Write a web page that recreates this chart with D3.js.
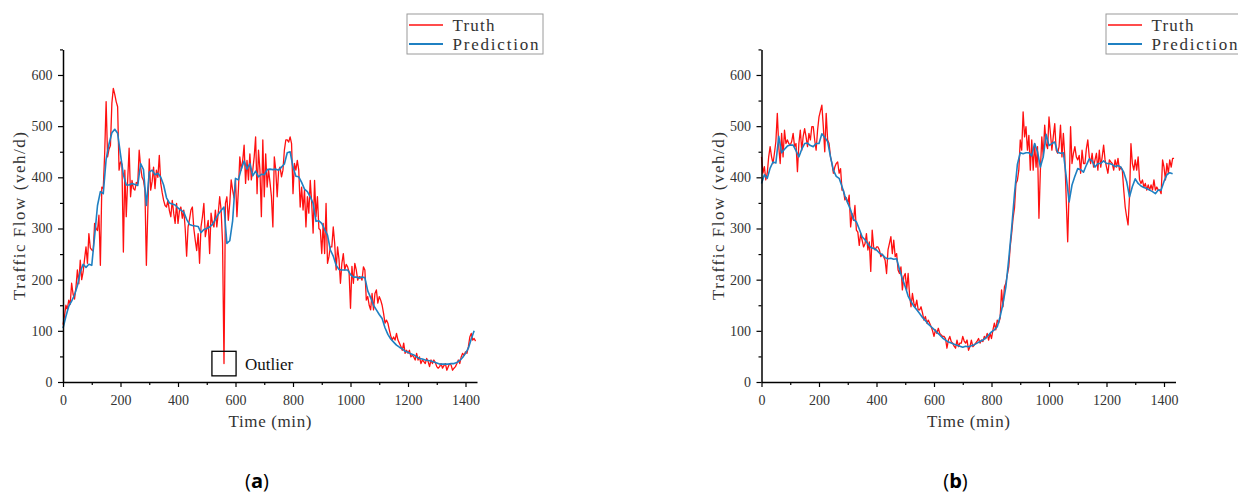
<!DOCTYPE html>
<html><head><meta charset="utf-8">
<script src="https://cdn.jsdelivr.net/npm/d3@7"></script>
<style>body{margin:0;background:#fff}svg{display:block}
.tick text{font-family:'Liberation Serif','Times New Roman',serif !important;}</style>
</head><body>
<svg id="chart" width="1238" height="493"></svg>
<script>
// ---- data (values per 5 min for Truth, per 10 min for Prediction) ----
const leftTruth = [
112,128,150,142,160,152,193,172,162,185,219,192,
238,200,215,240,264,232,290,262,258,256,310,300,
296,326,228,381,378,447,548,440,455,462,545,574,
562,548,538,414,430,426,254,414,323,395,457,362,
394,378,375,390,388,453,420,400,394,375,228,335,
436,375,392,420,378,414,400,443,388,370,355,345,
342,355,335,323,355,330,310,349,310,335,342,320,
336,300,246,303,318,336,342,300,277,257,290,232,
303,323,349,284,300,316,251,330,310,303,336,303,
330,362,336,271,36,349,362,316,349,395,375,360,
395,323,375,440,414,433,463,388,433,395,446,395,
414,440,479,368,453,414,323,473,362,446,381,414,
390,362,303,440,414,362,414,420,401,414,453,473,
473,469,479,466,368,427,414,433,414,342,381,336,
375,303,362,330,394,350,291,394,323,362,300,297,
251,310,251,349,232,245,264,264,303,271,219,264,
240,193,232,251,219,230,225,215,144,226,193,232,
219,199,206,205,199,225,219,160,167,150,141,173,
141,173,180,154,167,160,150,134,115,121,115,102,
90,82,88,82,95,82,76,70,62,76,56,62,
56,62,49,52,49,43,56,43,49,36,43,40,
36,46,40,30,43,36,43,38,30,27,30,36,
27,32,36,23,30,36,33,23,27,30,36,43,
36,49,56,52,59,56,69,88,95,82,85,80];

const leftPred = [
105,128,148,158,170,188,215,230,224,230,228,285,
345,372,368,435,465,487,494,486,445,405,385,385,
388,386,384,427,415,345,410,414,405,408,400,385,
360,350,348,346,340,336,332,318,308,306,305,304,
292,298,300,303,308,318,328,335,342,271,276,315,
398,395,416,432,416,427,403,412,401,406,405,415,
416,415,416,414,420,426,448,450,420,402,401,390,
377,372,362,349,314,315,310,298,287,258,246,228,
220,219,219,219,210,205,205,203,205,204,178,165,
150,141,132,124,106,93,84,78,72,68,65,60,
58,55,53,49,46,45,43,42,41,39,37,35,
35,35,35,36,36,38,42,48,56,66,84,100];

const rightTruth = [
440,408,421,395,408,440,460,440,427,447,470,525,
460,427,486,440,492,466,473,466,463,470,486,460,
466,411,466,492,453,480,495,479,460,486,473,499,
499,473,453,492,518,530,541,499,450,525,473,466,
440,427,408,420,427,430,408,417,375,375,356,360,
349,365,303,329,316,345,297,293,267,290,277,264,
270,290,258,274,216,297,264,258,264,264,258,245,
250,245,238,212,258,271,284,251,277,245,251,219,
212,225,180,206,212,180,212,170,147,173,154,147,
160,141,141,147,135,121,128,115,121,115,108,100,
89,102,95,105,95,92,89,89,85,66,82,89,
79,76,70,66,82,69,76,76,89,80,76,82,
62,69,82,69,72,76,80,85,76,82,79,89,
85,95,82,95,85,102,115,102,121,115,125,180,
147,186,193,210,225,264,290,320,340,388,394,414,
473,453,528,479,499,453,482,414,473,414,466,420,
460,320,414,479,440,502,466,456,518,486,453,480,
505,453,447,460,502,440,486,440,355,274,375,499,
427,447,460,440,434,443,408,453,427,427,456,473,
440,427,447,420,434,447,414,453,420,440,463,434,
420,408,434,430,427,414,434,420,437,414,420,414,
375,342,323,307,362,466,427,414,434,414,440,395,
388,395,381,388,375,385,375,385,375,395,375,381,
375,375,368,434,420,395,427,408,434,420,437,437];

const rightPred = [
388,405,398,418,430,428,480,448,455,461,463,463,
452,440,455,466,467,462,460,466,466,485,478,470,
440,414,402,398,382,364,350,336,318,313,299,284,
278,270,263,261,258,252,249,243,241,242,240,241,
220,202,186,168,157,148,141,134,126,120,113,108,
103,97,92,86,82,78,76,74,72,70,68,70,
69,71,73,76,79,82,86,92,98,102,108,128,
153,186,240,300,368,425,448,446,448,448,442,466,
450,420,440,484,462,466,469,449,447,448,401,352,
385,402,417,415,410,424,436,432,420,427,427,432,
427,427,425,421,423,420,410,392,362,382,397,388,
383,380,378,375,372,368,375,375,392,405,409,407];

const truthTimes = d3.range(0, 1440, 5);
const predTimes = d3.range(0, 1440, 10);
const yTicks = [0,100,200,300,400,500,600];
const yMinor = [50,150,250,350,450,550,650];
const xTicks = [0,200,400,600,800,1000,1200,1400];
const xMinor = [100,300,500,700,900,1100,1300];
const seriesNames = ["Truth","Prediction"];
const seriesColors = ["#ff1010","#1f80c2"];
const outlierBox = [518, 602, 12, 60];   // t0, t1, v0, v1
const outlierLabel = ["Outlier", 633, 24];

const svg = d3.select("#chart");
const SERIF = "'Liberation Serif','Times New Roman',serif";
const fmt = d3.format("d");

function panel(xLeft, xRight, truth, pred, caption, legendX, withOutlier) {
  const x = d3.scaleLinear().domain([0,1440]).range([xLeft, xRight]);
  const y = d3.scaleLinear().domain([0,650]).range([382, 49.4]);
  const g = svg.append("g");

  const line = d3.line().x(d => x(d[0])).y(d => y(d[1]));
  g.append("path").datum(truth.map((v,i)=>[truthTimes[i], v]))
    .attr("d", line).attr("fill","none").attr("stroke",seriesColors[0])
    .attr("stroke-width",1.3).attr("stroke-linejoin","round");
  g.append("path").datum(pred.map((v,i)=>[predTimes[i], v]))
    .attr("d", line).attr("fill","none").attr("stroke",seriesColors[1])
    .attr("stroke-width",1.6).attr("stroke-linejoin","round");

  // axes
  g.append("g").attr("transform",`translate(${xLeft},0)`)
    .call(d3.axisLeft(y).tickValues(yTicks).tickSize(5).tickSizeOuter(0).tickPadding(5.5).tickFormat(fmt));
  g.append("g").attr("transform",`translate(${xLeft},0)`)
    .call(d3.axisLeft(y).tickValues(yMinor).tickSize(3).tickSizeOuter(0).tickFormat(""))
    .select(".domain").remove();
  g.append("g").attr("transform","translate(0,382)")
    .call(d3.axisBottom(x).tickValues(xTicks).tickSize(5).tickSizeOuter(0).tickPadding(8).tickFormat(fmt));
  g.append("g").attr("transform","translate(0,382)")
    .call(d3.axisBottom(x).tickValues(xMinor).tickSize(3).tickSizeOuter(0).tickFormat(""))
    .select(".domain").remove();
  g.selectAll(".domain").attr("stroke","#000").attr("stroke-width",1.5);
  g.selectAll(".tick line").attr("stroke","#000").attr("stroke-width",1.2);
  g.selectAll(".tick text").style("font-family",SERIF).style("font-size","14px").attr("fill","#333");

  // axis titles
  g.append("text").attr("x",(xLeft+xRight)/2).attr("y",427).attr("text-anchor","middle")
    .attr("font-family",SERIF).attr("font-size",17).attr("fill","#333")
    .attr("textLength",83).attr("lengthAdjust","spacing").text("Time (min)");
  g.append("text").attr("transform",`translate(${xLeft-38},216) rotate(-90)`)
    .attr("text-anchor","middle").attr("font-family",SERIF).attr("font-size",17).attr("fill","#333")
    .attr("textLength",168).attr("lengthAdjust","spacing").text("Traffic Flow (veh/d)");

  // caption
  const cap = g.append("text").attr("x",(xLeft+xRight)/2 - 13).attr("y",488).attr("text-anchor","middle")
    .attr("font-family","'Open Sans',sans-serif").attr("font-size",20).attr("fill","#000");
  cap.append("tspan").text("(");
  cap.append("tspan").attr("font-weight","bold").text(caption);
  cap.append("tspan").text(")");

  // legend
  const lg = g.append("g").attr("transform",`translate(${legendX},14)`);
  lg.append("rect").attr("x",0).attr("y",0).attr("width",136).attr("height",40)
    .attr("fill","#fff").attr("stroke","#9a9a9a").attr("stroke-width",1);
  seriesNames.forEach((n,i) => {
    lg.append("line").attr("x1",2).attr("x2",36).attr("y1",11+i*19).attr("y2",11+i*19)
      .attr("stroke",seriesColors[i]).attr("stroke-width",i?1.8:1.4);
    lg.append("text").attr("x",45.5).attr("y",17+i*19).attr("font-family",SERIF)
      .attr("font-size",17).attr("fill","#333")
      .attr("textLength", i ? 86 : 42).attr("lengthAdjust","spacing").text(n);
  });

  if (withOutlier) {
    g.append("rect").attr("x",x(outlierBox[0])).attr("y",y(outlierBox[3]))
      .attr("width",x(outlierBox[1])-x(outlierBox[0])).attr("height",y(outlierBox[2])-y(outlierBox[3]))
      .attr("fill","none").attr("stroke","#000").attr("stroke-width",1.3);
    g.append("text").attr("x",x(outlierLabel[1])).attr("y",y(outlierLabel[2]))
      .attr("font-family",SERIF).attr("font-size",17).attr("fill","#111").text(outlierLabel[0]);
  }
}

panel(63, 477, leftTruth, leftPred, "a", 407, true);
panel(761.5, 1175.5, rightTruth, rightPred, "b", 1106, false);
</script>
</body></html>
